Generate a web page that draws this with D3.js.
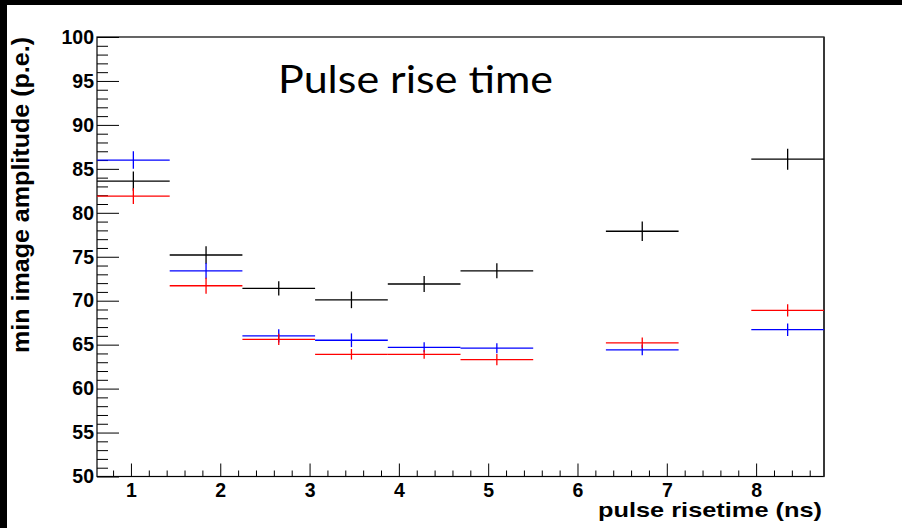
<!DOCTYPE html>
<html>
<head>
<meta charset="utf-8">
<script src="https://cdn.jsdelivr.net/npm/d3@7"></script>
<style>
  html, body { margin: 0; padding: 0; background: #fff; }
  svg { display: block; }
</style>
</head>
<body>
<svg id="chart" width="902" height="528"></svg>
<script>
// ---- data ----
const xCenters   = [1.027, 1.841, 2.655, 3.469, 4.283, 5.097, 6.725, 8.353];
const xHalfWidth = 0.407;
const blackVals  = [83.6, 75.2, 71.4, 70.1, 71.9, 73.4, 77.9, 86.1];
const blackErr   = [1.1, 1.0, 0.8, 0.95, 0.9, 0.85, 1.1, 1.2];
const blueVals   = [86.0, 73.4, 66.0, 65.5, 64.7, 64.6, 64.4, 66.7];
const blueErr    = [1.0, 0.9, 0.75, 0.78, 0.57, 0.57, 0.6, 0.72];
const redVals    = [81.9, 71.7, 65.6, 63.9, 63.9, 63.3, 65.2, 68.9];
const redErr     = [0.9, 0.9, 0.65, 0.6, 0.5, 0.63, 0.6, 0.7];
const xTicks     = [1, 2, 3, 4, 5, 6, 7, 8];
const yTicks     = [50, 55, 60, 65, 70, 75, 80, 85, 90, 95, 100];
const xDomain    = [0.62, 8.76];
const yDomain    = [50, 100];
const titleText  = "Pulse rise time";
const xTitle     = "pulse risetime (ns)";
const yTitle     = "min image amplitude (p.e.)";

// ---- layout ----
const svg = d3.select("#chart");
const L = 97, R = 824, T = 37, B = 476.5;
const x = d3.scaleLinear().domain(xDomain).range([L, R]);
const y = d3.scaleLinear().domain(yDomain).range([B, T]);

// black strips (frame of the screenshot)
svg.append("rect").attr("x", 0).attr("y", 0).attr("width", 902).attr("height", 5).attr("fill", "#000");
svg.append("rect").attr("x", 0).attr("y", 0).attr("width", 7).attr("height", 528).attr("fill", "#000");

// frame
svg.append("rect").attr("x", L).attr("y", T).attr("width", R - L).attr("height", B - T)
  .attr("fill", "none").attr("stroke", "#000").attr("stroke-width", 1.2);
svg.append("line").attr("x1", R).attr("x2", R).attr("y1", T).attr("y2", B)
  .attr("stroke", "#333").attr("stroke-width", 1.8);

const tickFont = "'Liberation Sans', Arial, Helvetica, sans-serif";

// y axis minor
const yMinor = d3.range(50, 101, 1).filter(v => v % 5 !== 0);
svg.append("g").attr("transform", `translate(${L},0)`)
  .call(d3.axisLeft(y).tickValues(yMinor).tickSize(-11).tickFormat(""))
  .call(g => g.select(".domain").remove())
  .call(g => g.selectAll("line").attr("stroke", "#000").attr("stroke-width", 1));
// y axis major
svg.append("g").attr("transform", `translate(${L},0)`)
  .call(d3.axisLeft(y).tickValues(yTicks).tickSize(-22).tickPadding(3).tickFormat(d3.format("d")))
  .call(g => g.select(".domain").remove())
  .call(g => g.selectAll("line").attr("stroke", "#000").attr("stroke-width", 1))
  .call(g => g.selectAll("text").attr("font-family", tickFont).attr("font-weight", "bold")
    .attr("font-size", 19.5).attr("fill", "#000"));

// x axis minor
const xMinor = d3.range(0.8, 8.75, 0.2).map(v => Math.round(v * 10) / 10).filter(v => Math.abs(v - Math.round(v)) > 0.01);
svg.append("g").attr("transform", `translate(0,${B})`)
  .call(d3.axisBottom(x).tickValues(xMinor).tickSize(-6).tickFormat(""))
  .call(g => g.select(".domain").remove())
  .call(g => g.selectAll("line").attr("stroke", "#000").attr("stroke-width", 1));
// x axis major
svg.append("g").attr("transform", `translate(0,${B})`)
  .call(d3.axisBottom(x).tickValues(xTicks).tickSize(-13).tickPadding(7).tickFormat(d3.format("d")))
  .call(g => g.select(".domain").remove())
  .call(g => g.selectAll("line").attr("stroke", "#000").attr("stroke-width", 1))
  .call(g => g.selectAll("text").attr("font-family", tickFont).attr("font-weight", "bold")
    .attr("font-size", 19.5).attr("fill", "#000"));

// axis titles
svg.append("text").attr("x", 822).attr("y", 517).attr("text-anchor", "end")
  .attr("font-family", tickFont).attr("font-weight", "bold").attr("font-size", 21)
  .attr("textLength", 224).attr("lengthAdjust", "spacingAndGlyphs")
  .attr("fill", "#000").text(xTitle);
svg.append("text").attr("transform", "translate(29,37) rotate(-90)").attr("text-anchor", "end")
  .attr("font-family", tickFont).attr("font-weight", "bold").attr("font-size", 23)
  .attr("textLength", 316).attr("lengthAdjust", "spacingAndGlyphs")
  .attr("fill", "#000").text(yTitle);

// title
svg.append("text").attr("x", 278).attr("y", 93.3)
  .attr("font-family", "Lato, 'Open Sans', sans-serif").attr("font-size", 39.5)
  .attr("textLength", 275).attr("lengthAdjust", "spacingAndGlyphs")
  .attr("fill", "#000").text(titleText);

// series
const series = [
  { vals: blackVals, errs: blackErr, color: "#000000" },
  { vals: blueVals,  errs: blueErr,  color: "#0000ff" },
  { vals: redVals,   errs: redErr,   color: "#ff0000" }
];
series.forEach(s => {
  const g = svg.append("g");
  const pts = xCenters.map((c, i) => ({ c, v: s.vals[i], e: s.errs[i] }));
  g.selectAll("line.h").data(pts).join("line").attr("class", "h")
    .attr("x1", d => x(d.c - xHalfWidth)).attr("x2", d => x(d.c + xHalfWidth))
    .attr("y1", d => y(d.v)).attr("y2", d => y(d.v))
    .attr("stroke", s.color).attr("stroke-width", 1.3);
  g.selectAll("line.v").data(pts).join("line").attr("class", "v")
    .attr("x1", d => x(d.c)).attr("x2", d => x(d.c))
    .attr("y1", d => y(d.v - d.e)).attr("y2", d => y(d.v + d.e))
    .attr("stroke", s.color).attr("stroke-width", 1.3);
});
</script>
</body>
</html>
